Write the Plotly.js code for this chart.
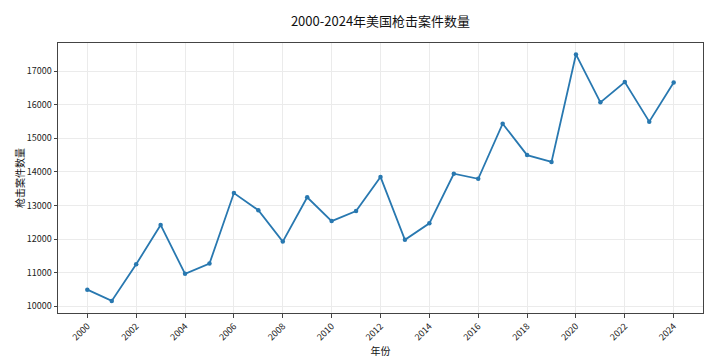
<!DOCTYPE html>
<html>
<head>
<meta charset="utf-8">
<script src="https://cdn.plot.ly/plotly-3.0.1.min.js"></script>
<style>html,body{margin:0;padding:0;background:#fff;}#chart{width:720px;height:364px;}</style>
</head>
<body>
<div id="chart"></div>
<script>
const years = [2000,2001,2002,2003,2004,2005,2006,2007,2008,2009,2010,2011,2012,2013,2014,2015,2016,2017,2018,2019,2020,2021,2022,2023,2024];
const incidents = [10495,10160,11250,12420,10965,11270,13370,12860,11925,13245,12535,12835,13850,11980,12470,13945,13795,15435,14500,14295,17495,16070,16675,15495,16660];
const xTicks = [2000,2002,2004,2006,2008,2010,2012,2014,2016,2018,2020,2022,2024];
const yTicks = [10000,11000,12000,13000,14000,15000,16000,17000];
const titleText = '2000-2024年美国枪击案件数量';
const xTitle = '年份';
const yTitle = '枪击案件数量';

const font = '"Noto Sans CJK SC", "Noto Sans", sans-serif';
Plotly.newPlot('chart', [{
  x: years, y: incidents, type: 'scatter', mode: 'lines+markers',
  line: {color: '#2878b0', width: 1.8},
  marker: {color: '#2878b0', size: 4.5}
}], {
  width: 720, height: 364,
  margin: {l: 58, r: 17, t: 43, b: 51},
  paper_bgcolor: '#fff', plot_bgcolor: '#fff',
  font: {family: font, color: '#222'},
  title: {text: titleText, xref: 'paper', x: 0.5, xanchor: 'center', y: 0.94, yanchor: 'middle', font: {size: 13, family: font, color: '#111'}},
  showlegend: false,
  xaxis: {
    range: [1998.8, 2025.2], tickvals: xTicks, ticktext: xTicks.map(String), tickangle: -45,
    tickfont: {size: 9, family: font, color: '#222'},
    showgrid: true, gridcolor: '#ebebeb', gridwidth: 1,
    showline: true, linecolor: '#444', linewidth: 1, mirror: true,
    ticks: 'outside', ticklen: 3.5, tickcolor: '#444', zeroline: false,
    title: {text: xTitle, font: {size: 10, family: font, color: '#111'}, standoff: 0}
  },
  yaxis: {
    range: [9800, 17836], tickvals: yTicks, ticktext: yTicks.map(String),
    tickfont: {size: 9, family: font, color: '#222'},
    showgrid: true, gridcolor: '#ebebeb', gridwidth: 1,
    showline: true, linecolor: '#444', linewidth: 1, mirror: true,
    ticks: 'outside', ticklen: 3.5, tickcolor: '#444', zeroline: false,
    title: {text: yTitle, font: {size: 10, family: font, color: '#111'}, standoff: 0}
  }
}, {staticPlot: true});
</script>
</body>
</html>
